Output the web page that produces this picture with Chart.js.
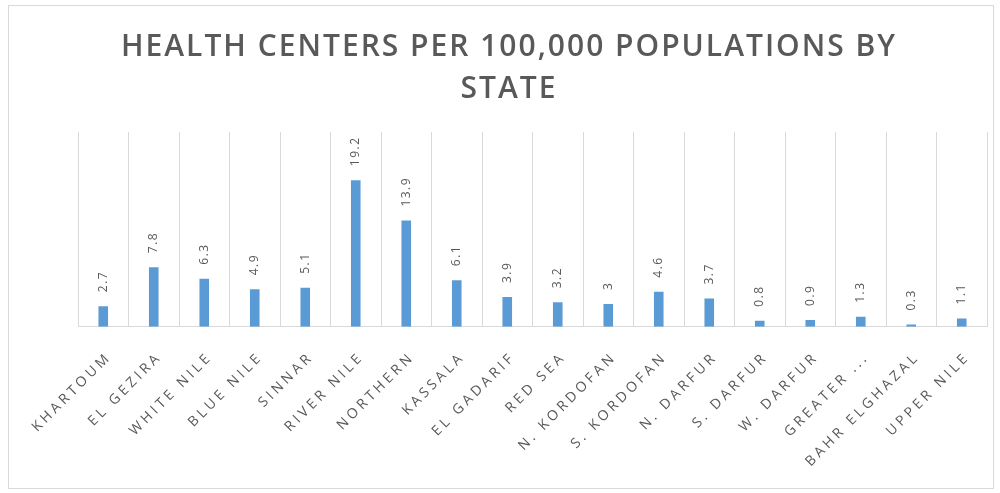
<!DOCTYPE html>
<html>
<head>
<meta charset="utf-8">
<script src="https://cdn.jsdelivr.net/npm/chart.js@4"></script>
<style>
    html, body { margin: 0; padding: 0; background: #fff; }
    .chart-wrap { position: relative; width: 1000px; height: 493px; }
    .chart-frame {
        position: absolute; left: 8px; top: 5px; width: 986px; height: 484px;
        border: 1px solid #d9d9d9; box-sizing: border-box; pointer-events: none;
    }
</style>
</head>
<body>
<div class="chart-wrap">
    <canvas id="barChart" width="1000" height="493"></canvas>
    <div class="chart-frame"></div>
</div>
<script>
const states = [
    'KHARTOUM', 'EL GEZIRA', 'WHITE NILE', 'BLUE NILE', 'SINNAR', 'RIVER NILE',
    'NORTHERN', 'KASSALA', 'EL GADARIF', 'RED SEA', 'N. KORDOFAN', 'S. KORDOFAN',
    'N. DARFUR', 'S. DARFUR', 'W. DARFUR', 'GREATER ...', 'BAHR ELGHAZAL', 'UPPER NILE'
];
const centersPer100k = [2.7, 7.8, 6.3, 4.9, 5.1, 19.2, 13.9, 6.1, 3.9, 3.2, 3, 4.6, 3.7, 0.8, 0.9, 1.3, 0.3, 1.1];
const titleLines = ['HEALTH CENTERS PER 100,000 POPULATIONS BY', 'STATE'];

const textGray = '#595959';
const barBlue = '#5b9bd5';
const gridGray = '#d9d9d9';

// wide letter spacing for axis text (canvas state is reset on resize, so set it each pass)
const spacingPlugin = {
    id: 'spacing',
    beforeLayout: chart => { chart.ctx.letterSpacing = '3.5px'; },
    beforeDraw: chart => { chart.ctx.letterSpacing = '3.5px'; }
};

// two-line heading drawn centred over the plot
const headingPlugin = {
    id: 'heading',
    afterDraw: chart => {
        const ctx = chart.ctx;
        ctx.save();
        ctx.letterSpacing = '2px';
        ctx.font = '600 30px "Open Sans"';
        ctx.fillStyle = textGray;
        ctx.textAlign = 'center';
        ctx.textBaseline = 'middle';
        ctx.fillText(titleLines[0], 509, 47);
        ctx.fillText(titleLines[1], 509, 89);
        ctx.restore();
    }
};

// vertical value labels above each bar
const valueLabels = {
    id: 'valueLabels',
    afterDatasetsDraw: chart => {
        const ctx = chart.ctx;
        const meta = chart.getDatasetMeta(0);
        ctx.save();
        ctx.letterSpacing = '1.5px';
        ctx.font = '12px "Open Sans"';
        ctx.fillStyle = textGray;
        ctx.textAlign = 'left';
        ctx.textBaseline = 'middle';
        meta.data.forEach((bar, i) => {
            ctx.save();
            ctx.translate(bar.x, bar.y - 14);
            ctx.rotate(-Math.PI / 2);
            ctx.fillText(String(centersPer100k[i]), 0, 0);
            ctx.restore();
        });
        ctx.restore();
    }
};

new Chart(document.getElementById('barChart'), {
    type: 'bar',
    data: {
        labels: states,
        datasets: [{
            data: centersPer100k,
            backgroundColor: barBlue,
            categoryPercentage: 1,
            barPercentage: 0.19
        }]
    },
    options: {
        responsive: false,
        animation: false,
        layout: { padding: { top: 132, left: 78, right: 13, bottom: 1 } },
        plugins: {
            legend: { display: false },
            title: { display: false },
            tooltip: { enabled: false }
        },
        scales: {
            y: { display: false, min: 0, max: 25.5 },
            x: {
                offset: true,
                grid: { display: true, offset: true, color: gridGray, drawTicks: false },
                border: { display: true, color: gridGray },
                ticks: {
                    color: textGray,
                    font: { family: 'Open Sans', size: 14 },
                    minRotation: 45,
                    maxRotation: 45,
                    padding: 22,
                    labelOffset: 6,
                    autoSkip: false
                }
            }
        }
    },
    plugins: [spacingPlugin, headingPlugin, valueLabels]
});
</script>
</body>
</html>
